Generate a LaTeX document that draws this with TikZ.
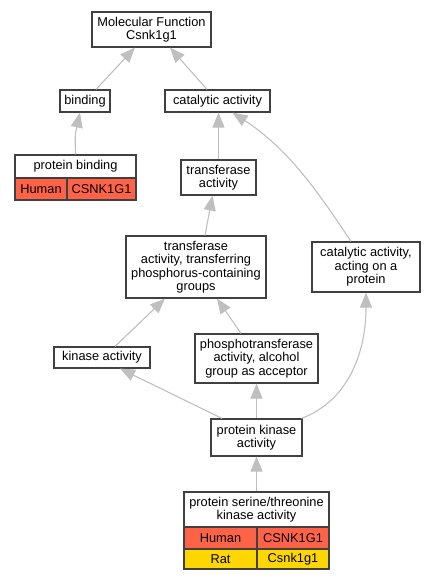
\documentclass[tikz,border=0pt]{standalone}
\usepackage{fontspec}
\setmainfont{Liberation Sans}
\usetikzlibrary{arrows.meta}
\definecolor{human}{RGB}{255,99,71}
\definecolor{rat}{RGB}{255,215,0}
\begin{document}
\begin{tikzpicture}[x=1pt,y=-1pt,
  term/.style={draw=black!75, line width=1.2pt, fill=white, align=center, inner sep=0pt,
    font=\fontsize{12.8}{13.4}\selectfont},
  cell/.style={term, fill=#1},
  edge/.style={draw=black!25, line width=1.1pt, -{Triangle[width=12pt,length=15pt]}}]
\useasboundingbox (0,0) rectangle (435,581);

% terms
\node[term, minimum width=119pt, minimum height=35pt] (mf) at (151.5,29.5) {Molecular Function\\Csnk1g1};
\node[term, minimum width=50pt, minimum height=22pt] (bind) at (85,101) {binding};
\node[term, minimum width=105pt, minimum height=22pt] (cat) at (217.5,101) {catalytic activity};
\node[term, minimum width=75pt, minimum height=35pt] (trans) at (218.5,177.5) {transferase\\activity};
\node[term, minimum width=140pt, minimum height=62pt] (phosgroup) at (196,267) {transferase\\activity, transferring\\phosphorus-containing\\groups};
\node[term, minimum width=108pt, minimum height=50pt] (catprot) at (366,267) {catalytic activity,\\acting on a\\protein};
\node[term, minimum width=96pt, minimum height=21pt] (kin) at (102,357.5) {kinase activity};
\node[term, minimum width=123pt, minimum height=49pt] (alcohol) at (256.5,358.5) {phosphotransferase\\activity, alcohol\\group as acceptor};
\node[term, minimum width=91pt, minimum height=37pt] (protkin) at (256.5,437.5) {protein kinase\\activity};

% protein binding table
\node[term, minimum width=121pt, minimum height=23pt] (pbind) at (75.5,166.5) {protein binding};
\node[cell=human, minimum width=52pt, minimum height=22pt] (pbhuman) at (41,189) {Human};
\node[cell=human, minimum width=69pt, minimum height=22pt] (pbgene) at (101.5,189) {CSNK1G1};

% serine/threonine table
\node[term, minimum width=145pt, minimum height=35pt] (serthr) at (256.5,509.5) {protein serine/threonine\\kinase activity};
\node[cell=human, minimum width=73pt, minimum height=22pt] (sthuman) at (220.5,538) {Human};
\node[cell=human, minimum width=72pt, minimum height=22pt] (stgene) at (293,538) {CSNK1G1};
\node[cell=rat, minimum width=73pt, minimum height=20pt] (strat) at (220.5,559) {Rat};
\node[cell=rat, minimum width=72pt, minimum height=20pt] (stratgene) at (293,559) {Csnk1g1};

% edges
\draw[edge] ([xshift=11pt]bind.north) -- ([xshift=-16.5pt]mf.south);
\draw[edge] ([xshift=-10.5pt]cat.north) -- ([xshift=18.5pt]mf.south);
\draw[edge] (pbind.north) .. controls (75,135) .. ([xshift=-5pt]bind.south);
\draw[edge] (trans.north) -- ([xshift=1pt]cat.south);
\draw[edge] ([xshift=9pt]phosgroup.north) -- ([xshift=-6pt]trans.south);
\draw[edge] ([xshift=-15pt]catprot.north) .. controls (320,195) and (290,150) .. ([xshift=15pt]cat.south);
\draw[edge] ([xshift=13pt]kin.north) -- ([xshift=-31pt]phosgroup.south);
\draw[edge] ([xshift=-15.5pt]alcohol.north) -- ([xshift=21pt]phosgroup.south);
\draw[edge] ([xshift=-34.5pt]protkin.north) -- ([xshift=18pt]kin.south);
\draw[edge] (protkin.north) -- (alcohol.south);
\draw[edge] ([xshift=45pt]protkin.north) .. controls (350,400) and (366,350) .. (catprot.south);
\draw[edge] (serthr.north) -- (protkin.south);
\end{tikzpicture}
\end{document}
